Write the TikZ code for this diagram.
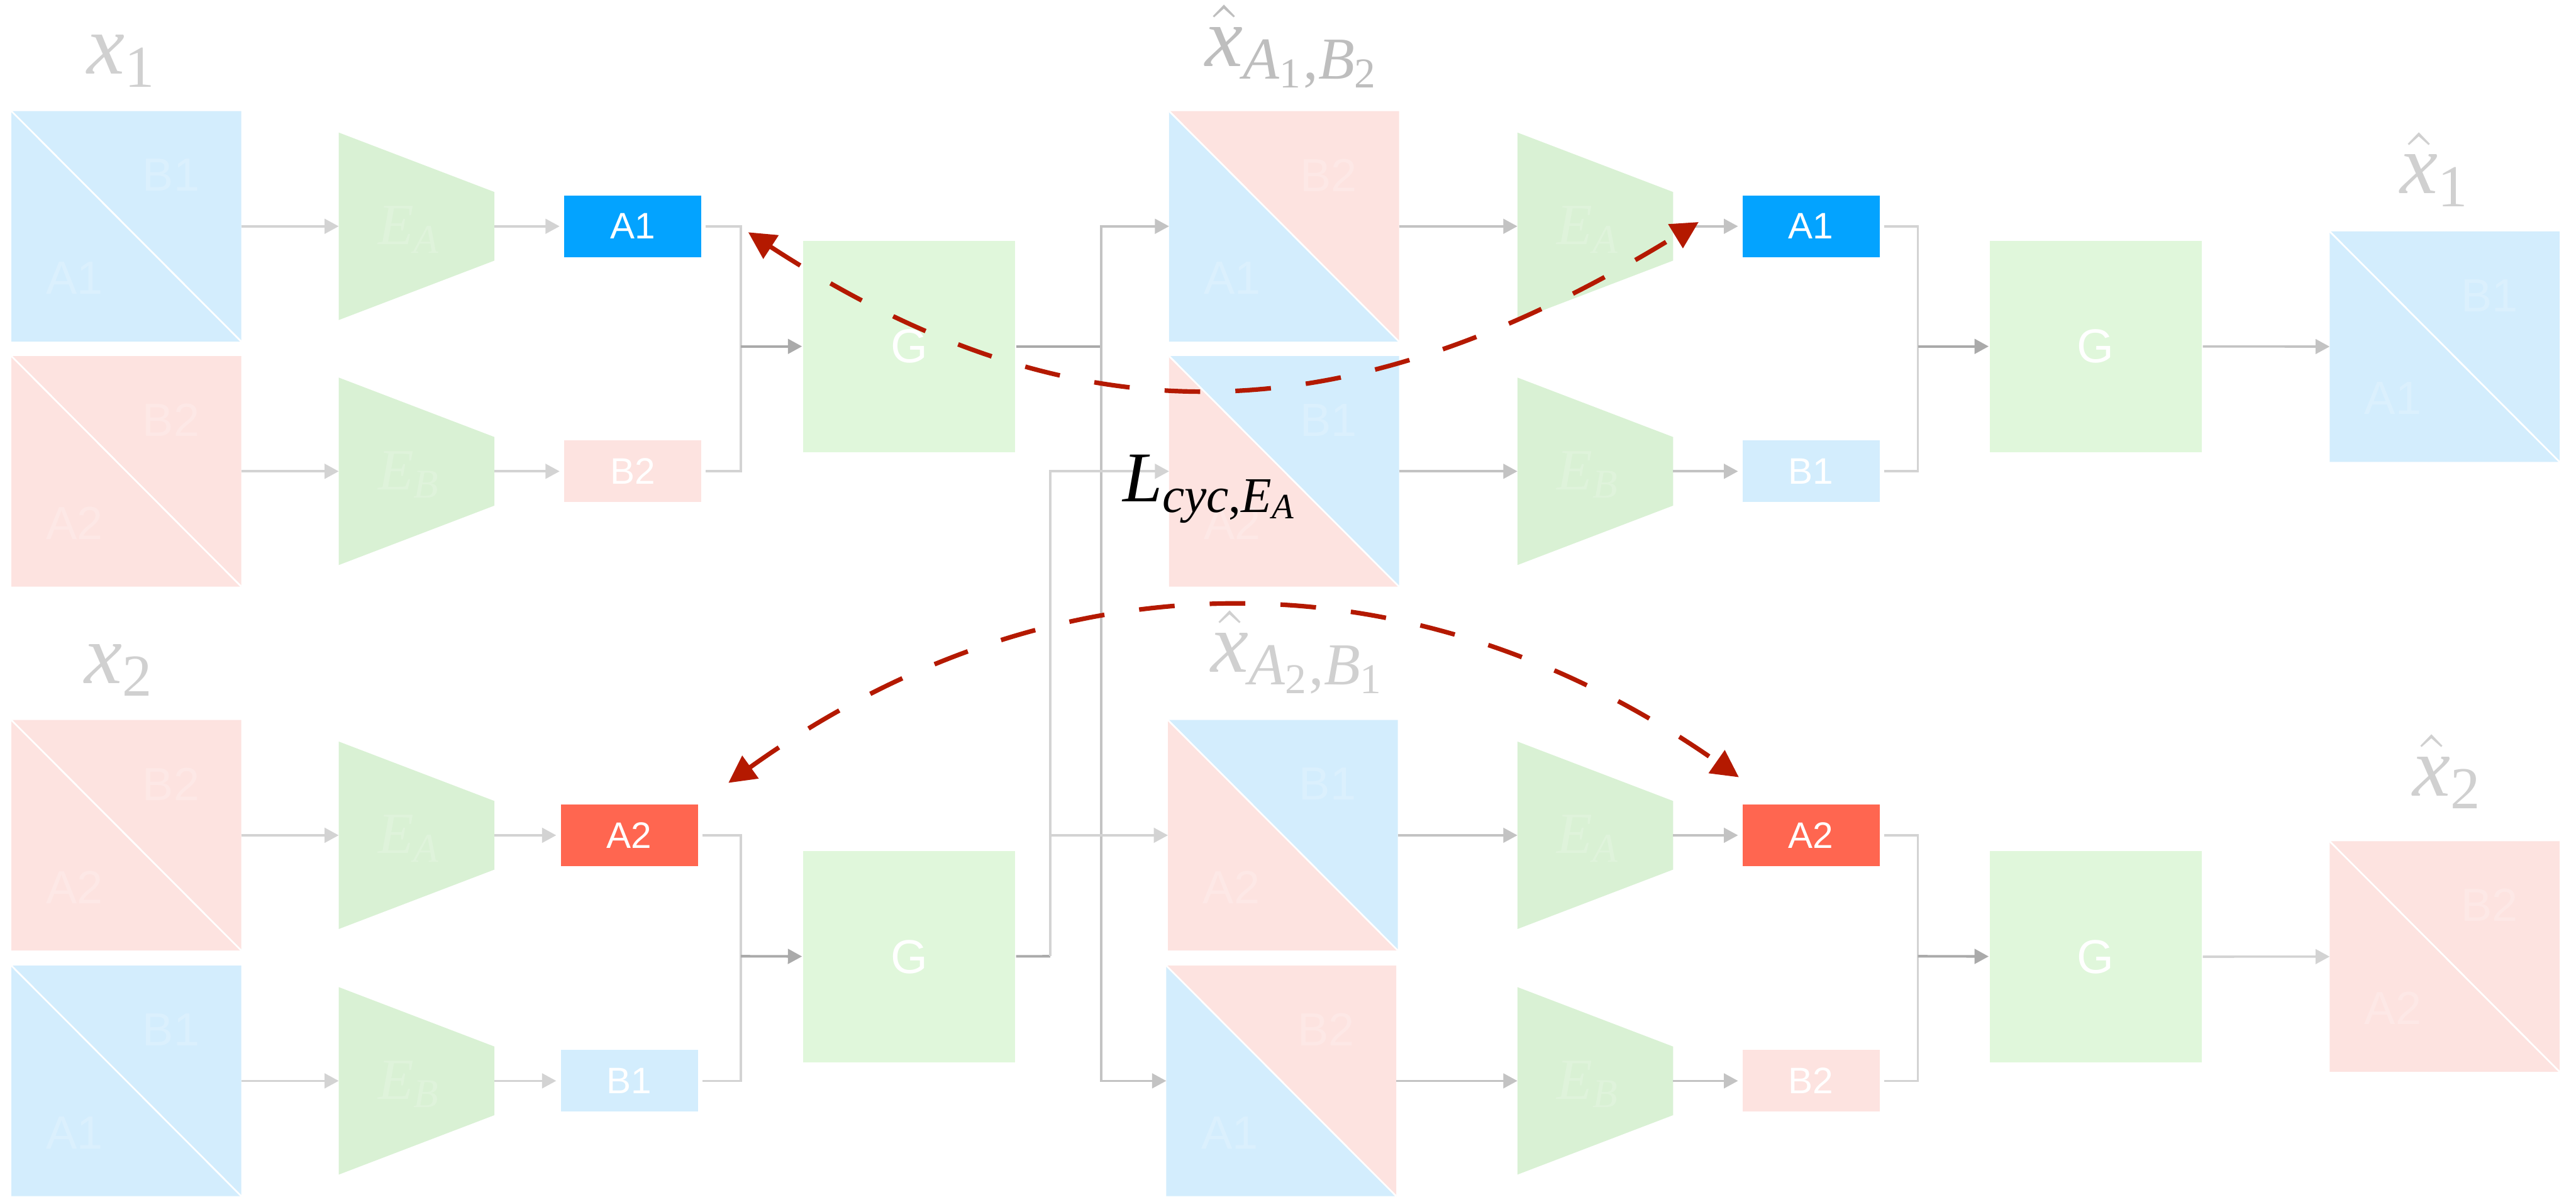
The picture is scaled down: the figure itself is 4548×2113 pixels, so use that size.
\RequirePackage{fix-cm}
\documentclass[tikz,border=0pt]{standalone}
\usepackage{amsmath}
\usepackage{fontspec}
\usetikzlibrary{arrows.meta,calc}
\newfontfamily\sansf{Liberation Sans}
\newfontfamily\serf{Liberation Serif}
\newcommand{\labit}[1]{\text{\serf\itshape #1}}
\newcommand{\labup}[1]{\text{\serf\upshape #1}}

\definecolor{sqblue}{RGB}{211,237,253}
\definecolor{sqpink}{RGB}{253,227,224}
\definecolor{encgreen}{RGB}{217,241,212}
\definecolor{gengreen}{RGB}{224,247,219}
\definecolor{codeblue}{RGB}{3,163,255}
\definecolor{codered}{RGB}{255,102,80}
\definecolor{cycred}{RGB}{180,25,0}
\definecolor{lineA}{RGB}{211,211,211}
\definecolor{lineB}{RGB}{195,195,195}
\definecolor{lineC}{RGB}{170,170,170}
\definecolor{labgray}{RGB}{208,208,208}
\definecolor{labdark}{RGB}{190,190,190}

% image square split along its diagonal:
% name, x, y, lower-left colour, upper-right colour, lower-left text, upper-right text
\newcommand{\picsq}[7]{%
  \node[sqbox] (#1) at (#2,#3) {};
  \fill[#4] (#1.north west) -- (#1.south west) -- (#1.south east) -- cycle;
  \fill[#5] (#1.north west) -- (#1.north east) -- (#1.south east) -- cycle;
  \draw[white, line width=0.3pt] (#1.north west) -- (#1.south east);
  \node[faint] at ($(#1.south west)+(112,-112)$) {#6};
  \node[faint] at ($(#1.north west)+(282,113)$) {#7};
}
% encoder trapezoid: name, x, y, subscript
\newcommand{\encoder}[4]{%
  \node[encbox] (#1) at (#2,#3) {};
  \fill[encgreen] (#1.north west) -- ($(#1.east)+(0,-60.5)$) -- ($(#1.east)+(0,60.5)$) -- (#1.south west) -- cycle;
  \node[enclab] at ($(#1.center)+(-12,6)$) {$\labit{E}_{\labit{#4}}$};
}

\begin{document}
\begin{tikzpicture}[x=0.1pt, y=-0.1pt,
  >={Triangle[length=2.5pt,width=2.6pt]},
  sqbox/.style={rectangle, inner sep=0pt, minimum width=40.2pt, minimum height=40.3pt},
  encbox/.style={rectangle, inner sep=0pt, minimum width=27.1pt, minimum height=32.7pt},
  codebox/.style={rectangle, inner sep=0pt, minimum width=24.2pt, minimum height=10.9pt,
    text=white, font=\sansf\fontsize{6.5}{7}\selectfont},
  genbox/.style={rectangle, fill=gengreen, inner sep=0pt, minimum width=37.4pt,
    minimum height=37.3pt, text=white, font=\sansf\fontsize{8.4}{10}\selectfont},
  faint/.style={text=white, text opacity=0.2, inner sep=0pt, font=\sansf\fontsize{8.2}{9}\selectfont},
  enclab/.style={text=white, text opacity=0.18, inner sep=0pt, font=\fontsize{10.3}{12}\selectfont},
  lab/.style={text=labgray, inner sep=0pt, anchor=base west, font=\fontsize{15}{18}\selectfont},
  feed/.style={draw=lineA, line width=0.4pt, ->},
  feedB/.style={draw=lineB, line width=0.4pt, ->},
  mergeline/.style={draw=lineA, line width=0.4pt},
  fuse/.style={draw=lineC, line width=0.45pt, ->},
  genout/.style={draw=lineC, line width=0.45pt},
  cyc/.style={draw=cycred, line width=0.8pt, dash pattern=on 6.3pt off 6.2pt,
    {Triangle[length=4.8pt,width=4.8pt]}-{Triangle[length=4.8pt,width=4.8pt]}}
]
\useasboundingbox[fill=white] (0,0) rectangle (4548,2113);

% ---------------- inputs ----------------
\picsq{s11}{223}{399.5}{sqblue}{sqblue}{A1}{B1}
\picsq{s12}{223}{832}{sqpink}{sqpink}{A2}{B2}
\picsq{s21}{223}{1474.5}{sqpink}{sqpink}{A2}{B2}
\picsq{s22}{223}{1908}{sqblue}{sqblue}{A1}{B1}

\node[lab] (lx1) at (152,131) {$\labit{x}_{\labup{1}}$};
\node[lab] (lx2) at (147,1206) {$\labit{x}_{\labup{2}}$};

% ---------------- first encoders ----------------
\encoder{e11}{735.5}{399.5}{A}
\encoder{e12}{735.5}{832}{B}
\encoder{e13}{735.5}{1474.5}{A}
\encoder{e14}{735.5}{1908}{B}

\node[codebox, fill=codeblue] (c11) at (1117,399.5) {A1};
\node[codebox, fill=sqpink] (c12) at (1117,832) {B2};
\node[codebox, fill=codered] (c13) at (1111,1474.5) {A2};
\node[codebox, fill=sqblue] (c14) at (1111,1908) {B1};

\node[genbox] (g11) at (1605,611.5) {G};
\node[genbox] (g12) at (1605,1689) {G};

\coordinate (m11) at (1308,611.5);
\coordinate (m12) at (1308,1688);
\coordinate (j11) at (1944,611.5);
\coordinate (j12) at (1854,1688);

\foreach \a/\b in {s11/e11, s12/e12, s21/e13, s22/e14}
  \draw[feed] (\a) -- (\b);
\foreach \a/\b in {e11/c11, e12/c12, e13/c13, e14/c14}
  \draw[feed, shorten >=0.6pt] (\a) -- (\b);

\draw[mergeline] ([xshift=0.6pt]c11.east) -| (m11) |- ([xshift=0.6pt]c12.east);
\draw[mergeline] ([xshift=0.6pt]c13.east) -| (m12) |- ([xshift=0.6pt]c14.east);
\draw[fuse] (m11) -- (g11);
\draw[fuse] (m12) -- (g12);

% ---------------- mixed reconstructions ----------------
\picsq{q11}{2267}{399.5}{sqblue}{sqpink}{A1}{B2}
\picsq{q12}{2267}{832}{sqpink}{sqblue}{A2}{B1}
\picsq{q21}{2265}{1474.5}{sqpink}{sqblue}{A2}{B1}
\picsq{q22}{2262}{1908}{sqblue}{sqpink}{A1}{B2}

\node[lab, text=labdark] (lq1) at (2126,117)
  {$\hat{\labit{x}}_{\labit{A}_{\labup{1}}\labup{,}\labit{B}_{\labup{2}}}$};
\node[lab] (lq2) at (2136,1186)
  {$\hat{\labit{x}}_{\labit{A}_{\labup{2}}\labup{,}\labit{B}_{\labup{1}}}$};

\draw[genout] (g11) -- (j11);
\draw[genout] (g12) -- (j12);
\draw[feedB] (j11) |- (q11.west);
\draw[feedB] (j11) |- (q22.west);
\draw[feed] (j12) |- (q21.west);
\draw[feed] (j12) |- (q12.west);

% ---------------- second encoders ----------------
\encoder{e21}{2816.5}{399.5}{A}
\encoder{e22}{2816.5}{832}{B}
\encoder{e23}{2816.5}{1474.5}{A}
\encoder{e24}{2816.5}{1908}{B}

\node[codebox, fill=codeblue] (c21) at (3197.5,399.5) {A1};
\node[codebox, fill=sqblue] (c22) at (3197.5,832) {B1};
\node[codebox, fill=codered] (c23) at (3197.5,1474.5) {A2};
\node[codebox, fill=sqpink] (c24) at (3197.5,1908) {B2};

\node[genbox] (g21) at (3700,611.5) {G};
\node[genbox] (g22) at (3700,1689) {G};

\coordinate (m21) at (3386,611.5);
\coordinate (m22) at (3386,1688);

\foreach \a/\b in {q11/e21, q12/e22, q21/e23, q22/e24}
  \draw[feedB] (\a) -- (\b);
\foreach \a/\b in {e21/c21, e22/c22, e23/c23, e24/c24}
  \draw[feedB, shorten >=0.6pt] (\a) -- (\b);

\draw[mergeline] ([xshift=0.6pt]c21.east) -| (m21) |- ([xshift=0.6pt]c22.east);
\draw[mergeline] ([xshift=0.6pt]c23.east) -| (m22) |- ([xshift=0.6pt]c24.east);
\draw[fuse] (m21) -- (g21);
\draw[fuse] (m22) -- (g22);

% ---------------- outputs ----------------
\picsq{o1}{4316}{612}{sqblue}{sqblue}{A1}{B1}
\picsq{o2}{4316}{1688.5}{sqpink}{sqpink}{A2}{B2}

\node[lab] (lo1) at (4236,342) {$\hat{\labit{x}}_{\labup{1}}$};
\node[lab] (lo2) at (4258,1405) {$\hat{\labit{x}}_{\labup{2}}$};

\draw[feedB] (g21) -- (o1);
\draw[feed] (g22) -- (o2);

% ---------------- cycle consistency ----------------
\coordinate (cy1a) at (1321,410);
\coordinate (cy1b) at (2999,392);
\coordinate (cy2a) at (1286,1382);
\coordinate (cy2b) at (3070,1372);
\draw[cyc] (cy1a) .. controls (1890,780) and (2366,780) .. (cy1b);
\draw[cyc] (cy2a) .. controls (1860,970) and (2497,970) .. (cy2b);

\node[inner sep=0pt, anchor=base west, font=\fontsize{12.6}{15}\selectfont] (lcyc) at (1980,885)
  {$\labit{L}_{\labit{cyc}\labup{,}\labit{E}_{\labit{A}}}$};
\end{tikzpicture}
\end{document}
